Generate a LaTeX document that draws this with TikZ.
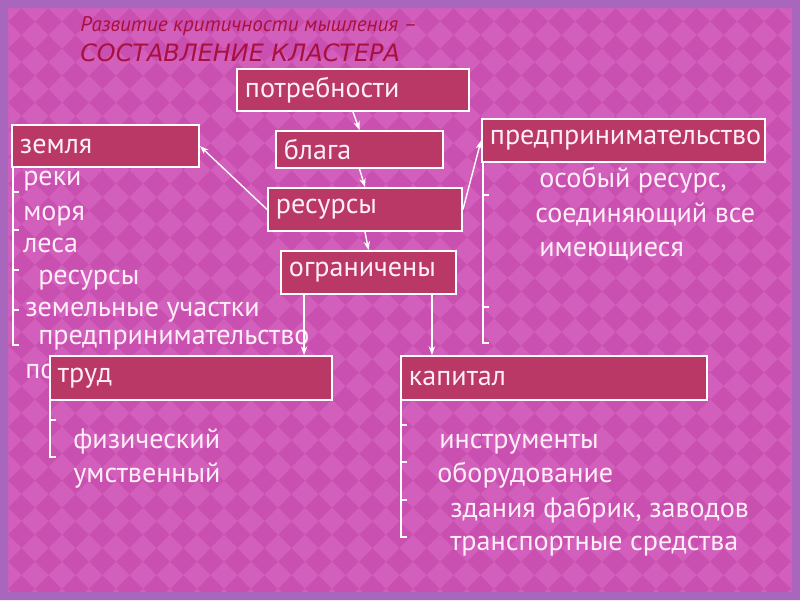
\documentclass[tikz,border=0pt]{standalone}
\usepackage{fontspec}
\setmainfont{PT Sans}
\newfontfamily\capsfont{DejaVu Sans}
\usetikzlibrary{arrows.meta,positioning,calc}
\definecolor{FrameLilac}{RGB}{168,102,188}
\definecolor{PinkDark}{RGB}{201,80,176}
\definecolor{PinkLight}{RGB}{210,95,187}
\definecolor{BoxRed}{RGB}{186,56,102}
\definecolor{TitleRed}{RGB}{170,16,62}
\definecolor{PaleText}{RGB}{255,238,248}
\tikzset{
  box/.style={draw=white,fill=BoxRed,line width=1.3pt,inner xsep=0.2cm,
    inner ysep=0pt,align=left,text=PaleText,font=\fontsize{20}{22}\selectfont},
  item/.style={anchor=base west,inner sep=0pt,text=PaleText,
    font=\fontsize{20}{22}\selectfont},
  heading/.style={anchor=base west,inner sep=0pt,text=TitleRed,
    font=\fontsize{15}{20}\selectfont\itshape},
  arrow/.style={-{Stealth[length=2.2mm,width=1.6mm]},white,line width=1pt},
  bracket/.style={white,line width=1pt}
}

\begin{document}
\begin{tikzpicture}[x=0.025cm,y=-0.025cm]
  \useasboundingbox (0,0) rectangle (800,600);

  % background with diamonds
  \fill[PinkDark] (0,0) rectangle (800,600);
  \begin{scope}
    \clip (8,8) rectangle (792,592);
    \foreach \i in {0,...,30}
      \foreach \j in {0,...,23}
        \fill[PinkLight] (8+27*\i,8+27*\j) ++(-13.5,0) -- ++(13.5,-13.5)
          -- ++(13.5,13.5) -- ++(-13.5,13.5) -- cycle;
  \end{scope}
  \fill[FrameLilac,even odd rule] (0,0) rectangle (800,600) (8,8) rectangle (792,592);

  % title
  \node[heading] (title1) at (80,31) {Развитие критичности мышления –};
  \node[heading,font=\capsfont\fontsize{17}{20}\selectfont\itshape]
    (title2) at (80,61) {СОСТАВЛЕНИЕ КЛАСТЕРА};

  % lists (behind the boxes)
  \node[item] (zem1) at (23,185) {реки};
  \node[item] (zem2) at (23,220) {моря};
  \node[item] (zem3) at (23,252) {леса};
  \node[item] (zem4) at (38,284) {ресурсы};
  \node[item] (zem5) at (25,316) {земельные участки};
  \node[item] (zem6) at (38,344) {предпринимательство};
  \node[item] (zem7) at (25,378) {по};

  \node[item] (pred1) at (539,187) {особый ресурс,};
  \node[item] (pred2) at (535,222) {соединяющий все};
  \node[item] (pred3) at (539,256) {имеющиеся};

  \node[item] (trud1) at (73,448) {физический};
  \node[item] (trud2) at (73,482) {умственный};

  \node[item] (kap1) at (439,448) {инструменты};
  \node[item] (kap2) at (437,482) {оборудование};
  \node[item] (kap3) at (450,517) {здания фабрик, заводов};
  \node[item] (kap4) at (450,550) {транспортные средства};

  % brackets
  \draw[bracket] (13,167) -- (13,345) -- ++(6,0);
  \foreach \ty in {192,230,270,310}
    \draw[bracket] (13,\ty) -- ++(6,0);
  \draw[bracket] (483,162) -- (483,343) -- ++(6,0);
  \foreach \ty in {195,307}
    \draw[bracket] (483,\ty) -- ++(6,0);
  \draw[bracket] (50,400) -- (50,457) -- ++(6,0);
  \draw[bracket] (50,420) -- ++(6,0);
  \draw[bracket] (401,400) -- (401,537) -- ++(6,0);
  \foreach \ty in {425,462,500}
    \draw[bracket] (401,\ty) -- ++(6,0);

  % boxes
  \node[box,text width=5.4cm,minimum height=1.05cm] (potr) at (353,90) {потребности};
  \node[box,text width=3.775cm,minimum height=0.925cm] (blaga) at (359.5,149.5) {блага};
  \node[box,text width=4.45cm,minimum height=1.075cm] (res) at (365,209.5) {ресурсы};
  \node[box,text width=3.975cm,minimum height=1.075cm] (ogr) at (368.5,272.5) {ограничены};
  \node[box,text width=4.275cm,minimum height=1.05cm] (zem) at (105.5,146) {земля};
  \node[box,text width=6.675cm,minimum height=1.075cm] (pred) at (623.5,140.5) {предпринимательство};
  \node[box,text width=6.65cm,minimum height=1.1cm] (trud) at (191,378) {труд};
  \node[box,text width=7.25cm,minimum height=1.1cm] (kap) at (554,378) {капитал};

  % arrows
  \draw[arrow] (potr.south) -- (blaga.north);
  \draw[arrow] (blaga.south) -- (res.north);
  \draw[arrow] (res.south) -- (ogr.north);
  \draw[arrow] (res.west) -- (zem.east);
  \draw[arrow] (res.east) -- (pred.west);
  \draw[arrow] ([xshift=0.6cm]ogr.south west) -- ([xshift=0.6cm]ogr.south west |- trud.north);
  \draw[arrow] ([xshift=-0.625cm]ogr.south east) -- ([xshift=-0.625cm]ogr.south east |- kap.north);
\end{tikzpicture}
\end{document}
